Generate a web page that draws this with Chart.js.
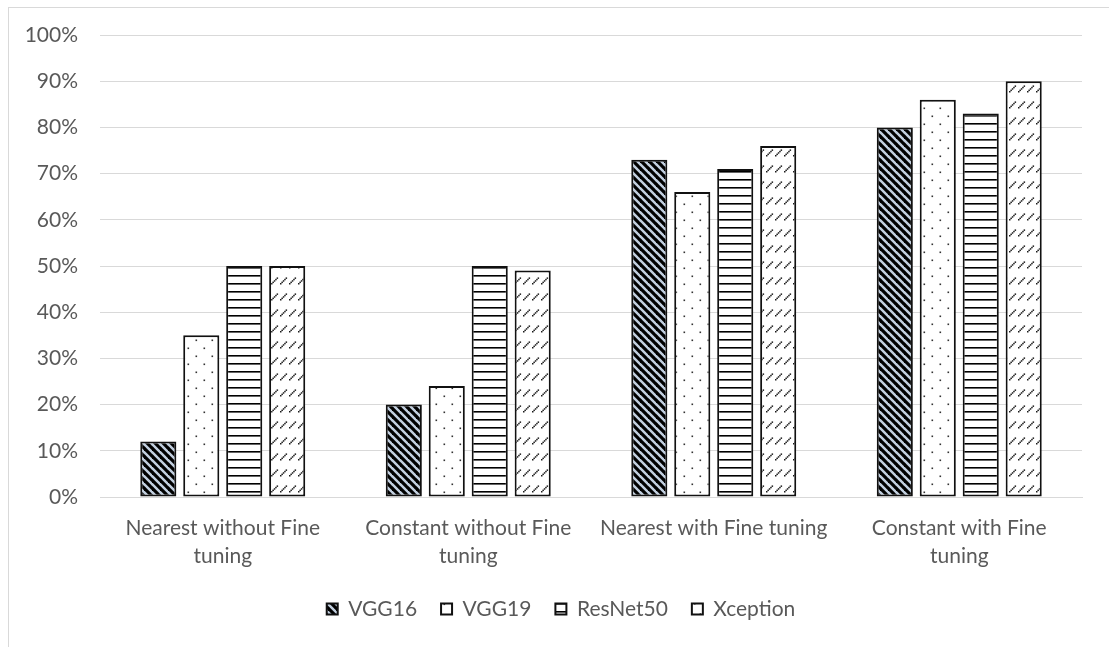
<!DOCTYPE html>
<html>
<head>
<meta charset="utf-8">
<script src="https://cdn.jsdelivr.net/npm/chart.js@4.4.1/dist/chart.umd.min.js"></script>
<style>
  html, body { margin: 0; padding: 0; background: #ffffff; }
  #wrap { width: 1109px; height: 647px; position: relative; }
</style>
</head>
<body>
<div id="wrap"><canvas id="chart" width="1109" height="647"></canvas></div>
<script>
// Categories (two-line tick labels where the text wraps)
const categories = [
  ['Nearest without Fine', 'tuning'],
  ['Constant without Fine', 'tuning'],
  'Nearest with Fine tuning',
  ['Constant with Fine', 'tuning']
];

// Accuracy per model, in percent
const vgg16    = [12, 20, 73, 80];
const vgg19    = [35, 24, 66, 86];
const resnet50 = [50, 50, 71, 83];
const xception = [50, 49, 76, 90];

const seriesNames = ['VGG16', 'VGG19', 'ResNet50', 'Xception'];

// ---- hatch fills ----
function makeTile(w, h, draw) {
  const c = document.createElement('canvas');
  c.width = w; c.height = h;
  const g = c.getContext('2d');
  draw(g, w, h);
  return document.getElementById('chart').getContext('2d').createPattern(c, 'repeat');
}

// wide downward diagonal on a pale blue ground
const hatchDiagonal = makeTile(8, 8, (g, w, h) => {
  g.fillStyle = '#c3d0e0';
  g.fillRect(0, 0, w, h);
  g.strokeStyle = '#000000';
  g.lineWidth = 3.2;
  for (const x0 of [-8, 0, 8]) {
    g.beginPath();
    g.moveTo(x0 - 1, -1);
    g.lineTo(x0 + w + 1, h + 1);
    g.stroke();
  }
});

// sparse staggered dots
const hatchDots = makeTile(16, 16, (g, w, h) => {
  g.fillStyle = '#ffffff';
  g.fillRect(0, 0, w, h);
  g.fillStyle = '#333333';
  g.fillRect(3.5, 3.5, 1.6, 1.6);
  g.fillRect(11.5, 11.5, 1.6, 1.6);
});

// horizontal lines
const hatchHorizontal = makeTile(8, 8, (g, w, h) => {
  g.fillStyle = '#ffffff';
  g.fillRect(0, 0, w, h);
  g.fillStyle = '#000000';
  g.fillRect(0, 3, w, 1.6);
});

// dashed upward diagonal: rows of short dotted strokes
const hatchDashed = makeTile(9, 16, (g, w, h) => {
  g.fillStyle = '#ffffff';
  g.fillRect(0, 0, w, h);
  g.fillStyle = '#1a1a1a';
  const pts = [[1, 11], [2.4, 9.6], [3.8, 8.2], [5.2, 6.8], [6.6, 5.4]];
  for (const [x, y] of pts) g.fillRect(x, y, 1.5, 1.5);
});

const fills = [hatchDiagonal, hatchDots, hatchHorizontal, hatchDashed];
const values = [vgg16, vgg19, resnet50, xception];

// light frame around the chart
const framePlugin = {
  id: 'frame',
  beforeDraw(chart) {
    const ctx = chart.ctx;
    ctx.save();
    ctx.strokeStyle = '#d9d9d9';
    ctx.lineWidth = 1;
    ctx.strokeRect(8.5, 7.5, 1200, 700);
    ctx.restore();
  }
};

// centre the legend row under the whole frame rather than the plot block
const legendShift = {
  id: 'legendShift',
  afterLayout(chart) {
    const lg = chart.legend;
    if (lg) { lg.left += 16; lg.right += 16; }
  }
};

const FONT = 'Lato, "Open Sans", sans-serif';
const TEXT = '#595959';

new Chart(document.getElementById('chart'), {
  type: 'bar',
  data: {
    labels: categories,
    datasets: seriesNames.map((name, i) => ({
      label: name,
      data: values[i],
      backgroundColor: fills[i],
      borderColor: '#111111',
      borderWidth: 2,
      borderSkipped: false,
      categoryPercentage: 0.7,
      barPercentage: 0.84
    }))
  },
  options: {
    responsive: false,
    animation: false,
    devicePixelRatio: 1,
    layout: { padding: { left: 8, right: 27, top: 35, bottom: 17.5 } },
    plugins: {
      tooltip: { enabled: false },
      legend: {
        position: 'bottom',
        labels: {
          boxWidth: 11,
          boxHeight: 11,
          padding: 24,
          color: TEXT,
          font: { family: FONT, size: 21 }
        }
      }
    },
    scales: {
      x: {
        grid: { display: false },
        border: { display: true, color: '#d9d9d9' },
        ticks: {
          color: TEXT,
          padding: 10,
          maxRotation: 0,
          autoSkip: false,
          font: { family: FONT, size: 21, lineHeight: 1.3 }
        },
        afterFit(scale) { scale.height = 77.5; }
      },
      y: {
        min: 0,
        max: 100,
        grid: { color: '#d9d9d9', lineWidth: 1, drawTicks: false },
        border: { display: false },
        ticks: {
          stepSize: 10,
          padding: 22,
          color: TEXT,
          font: { family: FONT, size: 21 },
          callback: v => v + '%'
        },
        afterFit(scale) { scale.width = 92; }
      }
    }
  },
  plugins: [framePlugin, legendShift]
});
</script>
</body>
</html>
